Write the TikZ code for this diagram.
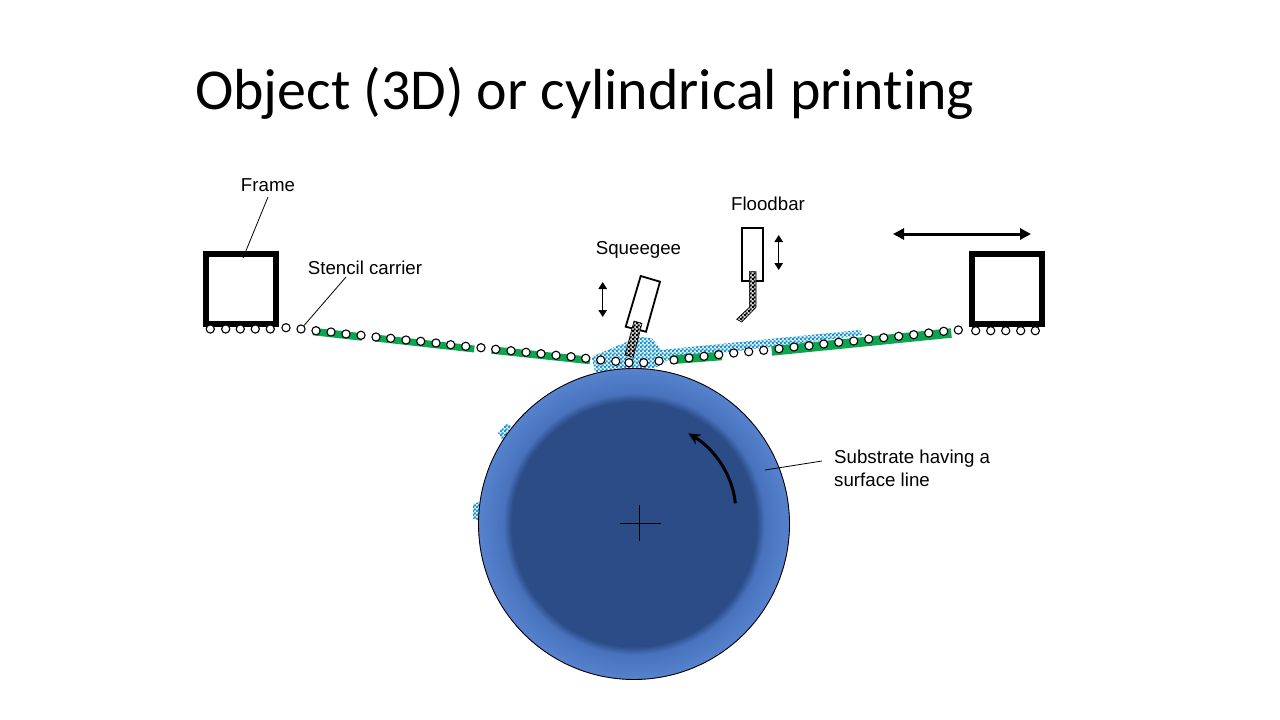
\documentclass[tikz,border=0pt]{standalone}
\usepackage{fontspec}
\setmainfont{Liberation Sans}
\newfontfamily\titlefont[Ligatures=NoCommon]{Carlito}
\usetikzlibrary{arrows.meta, patterns}

\definecolor{stencilgreen}{HTML}{0DA650}
\definecolor{inkblue}{HTML}{1E96CC}
\definecolor{discdark}{HTML}{2B4C87}
\definecolor{disclight}{HTML}{4872BC}
\definecolor{discedge}{HTML}{5682CE}
\pgfdeclareradialshading{discshade}{\pgfpointorigin}{%
  color(0bp)=(discdark); color(19.7bp)=(discdark); color(21bp)=(disclight);
  color(25bp)=(discedge); color(50bp)=(discedge)}
\pgfdeclarepatternformonly{finecheck}{\pgfpointorigin}{\pgfqpoint{4pt}{4pt}}{\pgfqpoint{4pt}{4pt}}{%
  \pgfpathrectangle{\pgfpointorigin}{\pgfqpoint{2.4pt}{2.4pt}}
  \pgfpathrectangle{\pgfqpoint{2pt}{2pt}}{\pgfqpoint{2.4pt}{2.4pt}}
  \pgfusepath{fill}}

\tikzset{
  framebox/.style={draw, line width=5.8pt, fill=white, minimum size=70pt, inner sep=0pt},
  bead/.style={draw, circle, fill=white, line width=1.1pt, minimum size=8.2pt, inner sep=0pt},
  strip/.style={line width=#1, draw=stencilgreen},
  ink/.style={preaction={fill=inkblue!12}, pattern=finecheck, pattern color=inkblue},
  blade/.style={draw, line width=0.6pt, preaction={fill=black!15}, pattern=finecheck, pattern color=black},
  holder/.style={draw, fill=white, line width=1.8pt},
  label/.style={font=\fontsize{18.7}{23}\selectfont, align=left},
  leader/.style={draw, line width=0.8pt},
  updown/.style={draw, line width=1.2pt, {Triangle[length=7pt, width=8.5pt]}-{Triangle[length=7pt, width=8.5pt]}}
}

\begin{document}
\begin{tikzpicture}[x=1pt, y=-1pt]
  \useasboundingbox (0,0) rectangle (1280,720);

  % Title
  \node (title) [anchor=base west, inner sep=0pt, font=\titlefont\fontsize{57.9}{60}\selectfont] at (195,109.5) {Object (3D) or cylindrical printing};

  % Ink on the screen and on the substrate
  \fill[ink] (591.7,356.7) -- (639,336.7) -- (651.7,338.3) -- (661.7,350) -- (666.7,349.3) -- (860,330) -- (862.7,335)
    -- (771,347) -- (670,359) -- (655,368) -- (595,372) -- cycle;
  \fill[ink] (498,433) -- (507,423) -- (511,426) -- (503,441) -- cycle;
  \fill[ink] (473,504) -- (479,502) -- (479,520) -- (473,519) -- cycle;

  % Substrate
  \node (substrate) [draw, circle, shading=discshade, line width=0.9pt, minimum size=311pt, inner sep=0pt] at (634,524) {};
  \coordinate (crossw) at (620,523.3);
  \coordinate (crosse) at (660.7,523.3);
  \coordinate (crossn) at (639.5,505);
  \coordinate (crosss) at (639.5,541);
  \draw[line width=0.9pt] (crossw) -- (crosse);
  \draw[line width=0.9pt] (crossn) -- (crosss);
  \coordinate (turnstart) at (735.3,503.3);
  \coordinate (turnend) at (688.3,433.3);
  \draw[line width=3pt, -{Stealth[length=12pt, width=11pt]}] (turnstart) .. controls (733,477) and (716,450) .. (turnend);

  % Stencil pieces
  \draw[strip=7.5pt] (313,331.5) -- (362,337);
  \draw[strip=7pt] (375,338) -- (474.3,349);
  \draw[strip=7.5pt] (491.7,350) -- (590,360.5);
  \draw[strip=8.5pt] (670.7,360) -- (721.7,356);
  \draw[strip=9.5pt] (771.7,351) -- (951.3,333);

  % Frames
  \node (frameleft) [framebox] at (241.2,288.8) {};
  \node (frameright) [framebox] at (1007,288.8) {};

  % Carrier beads
  \foreach \x/\y [count=\i] in {210.3/329, 225.7/329, 240.3/329, 255.3/329, 270.3/329, 286/327.7, 301/329,
    316/330.7, 331/332, 346/334, 361/335.3, 376/337, 390.7/338.3, 406/340, 420.7/341.3, 436/343, 450.7/344.7,
    465.7/346.3, 481/347.7, 495.7/349.3, 511/350.7, 526/352.3, 541/353.7, 556/355.3, 571/356.7, 585.7/358.3,
    600.7/360, 615.7/361.3, 629/362.7, 643.7/362.7, 659/361, 674/360, 689/358, 704/356.3, 718.7/354.7, 733.7/353,
    748.7/351.7, 763.7/350.3, 779/348.7, 794/347, 809/345.7, 823.7/344, 838.7/342.3, 853.7/341, 868.7/339,
    883.7/337.7, 898.7/336.3, 913.7/334.7, 928.7/333, 943.7/331.3, 958.3/330, 975.7/330.7, 990.7/330.7,
    1005.7/330.7, 1020.7/330.7, 1035.3/330.7}
    \node (bead\i) [bead] at (\x,\y) {};

  % Squeegee
  \draw[holder] (640.7,276) -- (660,281.7) -- (646,331.7) -- (625.7,326.7) -- cycle;
  \filldraw[blade] (634,321) -- (642,323.3) -- (633.3,357.3) -- (625,355) -- cycle;
  \coordinate (squeetop) at (602.7,282);
  \coordinate (squeebot) at (602.7,317);
  \draw[updown] (squeetop) -- (squeebot);

  % Floodbar
  \draw[holder] (741.7,228.3) rectangle (762.7,281.3);
  \filldraw[blade] (749.3,271.7) -- (756,271.7) -- (756,307.3) -- (741.7,322) -- (736.7,319.3) -- (749.3,307.3) -- cycle;
  \coordinate (floodtop) at (778.7,235);
  \coordinate (floodbot) at (778.7,270);
  \draw[updown] (floodtop) -- (floodbot);

  % Travel arrow
  \coordinate (travelleft) at (893,234);
  \coordinate (travelright) at (1031,234);
  \draw[line width=3pt, {Triangle[length=11pt, width=11pt]}-{Triangle[length=11pt, width=11pt]}] (travelleft) -- (travelright);

  % Labels
  \node (framelabel) [label] at (268,185.5) {Frame};
  \node (carrierlabel) [label] at (365,267.5) {Stencil carrier};
  \node (squeegeelabel) [label] at (638.5,250) {Squeegee};
  \node (floodbarlabel) [label] at (768,203.5) {Floodbar};
  \node (substratelabel) [label, anchor=west, inner sep=0pt] at (834,468.5) {Substrate having a\\surface line};

  % Leaders
  \coordinate (frametip) at (243,258);
  \coordinate (frametail) at (268,197);
  \coordinate (carriertail) at (346,277);
  \coordinate (substratetail) at (822,461);
  \coordinate (substratetip) at (765,470);
  \draw[leader] (frametail) -- (frametip);
  \draw[leader] (carriertail) -- (bead7);
  \draw[leader] (substratetail) -- (substratetip);
\end{tikzpicture}
\end{document}
